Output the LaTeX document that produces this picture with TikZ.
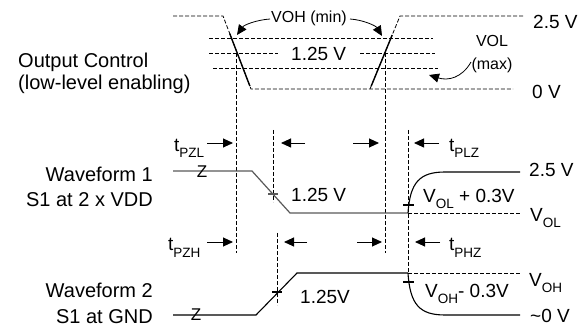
\documentclass[tikz,border=0pt]{standalone}
\usepackage{fontspec}
\setmainfont{Liberation Sans}
\usetikzlibrary{arrows.meta,calc}
\newcommand{\sbs}[1]{\raisebox{-6pt}{\fontsize{13.5}{14}\selectfont #1}}
\begin{document}
\begin{tikzpicture}[x=1pt,y=-1pt,
  dsh/.style={line width=0.8pt, dash pattern=on 4pt off 2pt},
  edgeline/.style={line width=1.4pt},
  wave/.style={line width=1.1pt},
  wgray/.style={line width=1.2pt, draw=black!65},
  tick/.style={line width=1.3pt},
  arr/.style={-{Triangle[length=10pt,width=9pt]}, line width=0.9pt},
  lead/.style={-{Triangle[length=10pt,width=9pt]}, line width=0.8pt},
  big/.style={font=\fontsize{20}{22}\selectfont, inner sep=0pt},
  lbl/.style={font=\fontsize{19}{21}\selectfont, inner sep=0pt},
  small/.style={font=\fontsize{16}{18}\selectfont, inner sep=0pt},
  zl/.style={font=\fontsize{17}{18}\selectfont, inner sep=0pt}]
\useasboundingbox (0,0) rectangle (585,328);

% ---------- top: output control ----------
\coordinate (tl1) at (173,16);
\coordinate (tl2) at (223,16);
\coordinate (bl1) at (251,89);
\coordinate (bl2) at (370,89);
\coordinate (bl3) at (513,89);
\coordinate (tr1) at (400,16);
\coordinate (tr2) at (525,16);
\draw[dsh] (tl1) -- (tl2) -- (bl1) -- (bl3);
\draw[dsh] (bl2) -- (tr1) -- (tr2);
\coordinate (ha1) at (209,38); \coordinate (ha2) at (433,38);
\coordinate (hb1) at (209,53); \coordinate (hb2) at (278,53);
\coordinate (hb3) at (360,53); \coordinate (hb4) at (435,53);
\coordinate (hc1) at (213,68); \coordinate (hc2) at (438,68);
\draw[dsh] (ha1) -- (ha2);
\draw[dsh] (hb1) -- (hb2);
\draw[dsh] (hb3) -- (hb4);
\draw[dsh] (hc1) -- (hc2);
\draw[edgeline] ($(tl2)!0.24!(bl1)$) -- ($(tl2)!0.96!(bl1)$);
\draw[edgeline] ($(bl2)!0.04!(tr1)$) -- ($(bl2)!0.74!(tr1)$);

\node[lbl, anchor=base west] (v125top) at (291,61) {1.25 V};
\node[small, anchor=base west] (vohmin) at (271,23) {VOH (min)};
\node[small, anchor=base] (vol) at (492,47) {VOL};
\node[small, anchor=base] (volmax) at (492,70) {(max)};
\node[lbl, anchor=base west] (v25top) at (533,29) {2.5 V};
\node[lbl, anchor=base west] (v0top) at (532,99) {0 V};
\node[big, anchor=base west] (oc1) at (18,68) {Output Control};
\node[big, anchor=base west] (oc2) at (18,90) {(low-level enabling)};

\coordinate (la1) at (270,19); \coordinate (la2) at (237,35);
\coordinate (lb1) at (350,19); \coordinate (lb2) at (382,36);
\coordinate (lc1) at (471,62); \coordinate (lc2) at (429,75);
\draw[lead] (la1) .. controls (256,20) and (244,25) .. (la2);
\draw[lead] (lb1) .. controls (364,20) and (376,26) .. (lb2);
\draw[lead] (lc1) .. controls (462,78) and (448,81) .. (lc2);

% ---------- vertical reference lines ----------
\coordinate (va1) at (236,53);  \coordinate (va2) at (236,253);
\coordinate (vb1) at (273,130); \coordinate (vb2) at (273,202);
\coordinate (vc1) at (277,233); \coordinate (vc2) at (277,305);
\coordinate (vd1) at (385,53);  \coordinate (vd2) at (385,253);
\coordinate (ve1) at (408,130); \coordinate (ve2) at (408,273);
\draw[dsh] (va1) -- (va2);
\draw[dsh] (vb1) -- (vb2);
\draw[dsh] (vc1) -- (vc2);
\draw[dsh] (vd1) -- (vd2);
\draw[dsh] (ve1) -- (ve2);

% ---------- timing arrows ----------
\coordinate (a1s) at (207,143); \coordinate (a1e) at (233,143);
\coordinate (a2s) at (305,143); \coordinate (a2e) at (281,143);
\coordinate (a3s) at (353,143); \coordinate (a3e) at (379,143);
\coordinate (a4s) at (439,143); \coordinate (a4e) at (414,143);
\draw[arr] (a1s) -- (a1e);
\draw[arr] (a2s) -- (a2e);
\draw[arr] (a3s) -- (a3e);
\draw[arr] (a4s) -- (a4e);
\coordinate (b1s) at (207,242); \coordinate (b1e) at (233,242);
\coordinate (b2s) at (307,242); \coordinate (b2e) at (284,242);
\coordinate (b3s) at (357,242); \coordinate (b3e) at (382,242);
\coordinate (b4s) at (440,242); \coordinate (b4e) at (415,242);
\draw[arr] (b1s) -- (b1e);
\draw[arr] (b2s) -- (b2e);
\draw[arr] (b3s) -- (b3e);
\draw[arr] (b4s) -- (b4e);
\node[lbl, anchor=base west] (tpzl) at (174,152) {t\sbs{PZL}};
\node[lbl, anchor=base west] (tplz) at (449,152) {t\sbs{PLZ}};
\node[lbl, anchor=base west] (tpzh) at (168,251) {t\sbs{PZH}};
\node[lbl, anchor=base west] (tphz) at (449,251) {t\sbs{PHZ}};

% ---------- waveform 1 ----------
\coordinate (w1a) at (173,171);
\coordinate (w1b) at (252,171);
\coordinate (w1c) at (290,213);
\coordinate (w1d) at (408,213);
\coordinate (w1e) at (445,172);
\coordinate (w1f) at (520,172);
\coordinate (w1g) at (520,213);
\draw[dsh] (w1d) -- (w1g);
\draw[wgray] (w1a) -- (w1b) -- (w1c) -- (w1d);
\draw[wave] (w1d) .. controls (410,182) and (420,172) .. (w1e) -- (w1f);
\coordinate (k1a) at (268,194); \coordinate (k1b) at (278,194);
\coordinate (k2a) at (403,205); \coordinate (k2b) at (414,205);
\draw[tick, draw=black!65] (k1a) -- (k1b);
\draw[tick] (k2a) -- (k2b);
\node[zl] (z1) at (202,172) {Z};
\node[big, anchor=base east] (wf1a) at (153,182) {Waveform 1};
\node[big, anchor=base east] (wf1b) at (153,207) {S1 at 2 x VDD};
\node[lbl, anchor=base west] (w1lvl) at (291,202) {1.25 V};
\node[lbl, anchor=base west] (w1vol3) at (423,203) {V\sbs{OL} + 0.3V};
\node[lbl, anchor=base west] (w1v25) at (529,177) {2.5 V};
\node[lbl, anchor=base west] (w1vol) at (530,222) {V\sbs{OL}};

% ---------- waveform 2 ----------
\coordinate (w2a) at (173,315);
\coordinate (w2b) at (256,315);
\coordinate (w2c) at (297,273);
\coordinate (w2d) at (408,273);
\coordinate (w2e) at (445,315);
\coordinate (w2f) at (520,315);
\coordinate (w2g) at (520,273);
\draw[dsh] (w2d) -- (w2g);
\draw[wave] (w2a) -- (w2b) -- (w2c) -- (w2d);
\draw[wave] (w2d) .. controls (410,305) and (420,315) .. (w2e) -- (w2f);
\coordinate (k3a) at (272,292); \coordinate (k3b) at (282,292);
\coordinate (k4a) at (403,282); \coordinate (k4b) at (414,282);
\draw[tick] (k3a) -- (k3b);
\draw[tick] (k4a) -- (k4b);
\node[zl] (z2) at (196,315) {Z};
\node[big, anchor=base east] (wf2a) at (153,297) {Waveform 2};
\node[big, anchor=base east] (wf2b) at (153,323) {S1 at GND};
\node[lbl, anchor=base west] (w2lvl) at (300,303) {1.25V};
\node[lbl, anchor=base west] (w2voh3) at (425,297) {V\sbs{OH}- 0.3V};
\node[lbl, anchor=base west] (w2voh) at (529,286) {V\sbs{OH}};
\node[lbl, anchor=base west] (w2v0) at (530,322) {\char`\~0 V};
\end{tikzpicture}
\end{document}
